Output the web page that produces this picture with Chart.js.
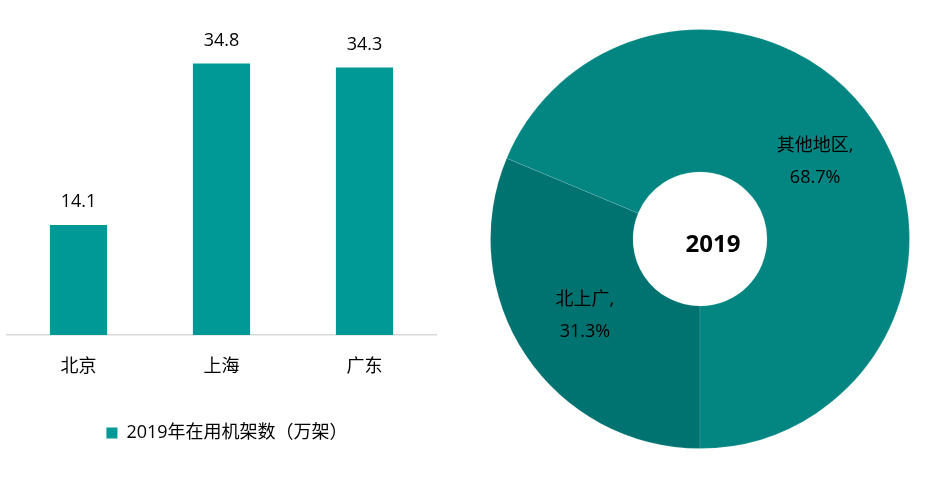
<!DOCTYPE html>
<html>
<head>
<meta charset="utf-8">
<script src="https://cdn.jsdelivr.net/npm/chart.js@4/dist/chart.umd.min.js"></script>
<style>
  html, body { margin: 0; padding: 0; background: #fff; }
  body { width: 950px; height: 478px; position: relative; overflow: hidden; }
  #barWrap { position: absolute; left: 0; top: 0; width: 449px; height: 478px; }
  #pieWrap { position: absolute; left: 480px; top: 19px; width: 440px; height: 440px; }
</style>
</head>
<body>
<div id="barWrap"><canvas id="bar"></canvas></div>
<div id="pieWrap"><canvas id="pie"></canvas></div>
<script>
const barCategories = ['北京', '上海', '广东'];
const barValues = [14.1, 34.8, 34.3];
const barSeriesName = '2019年在用机架数（万架）';

const pieLabels = ['北上广', '其他地区'];
const pieValues = [31.3, 68.7];
const pieCenterText = '2019';

const FONT = '"Open Sans", "Noto Sans CJK SC", sans-serif';
const BAR_COLOR = '#009996';
const PIE_COLORS = ['#00726F', '#038682'];

const barValueLabels = {
  id: 'barValueLabels',
  afterDatasetsDraw(chart) {
    const ctx = chart.ctx;
    const meta = chart.getDatasetMeta(0);
    ctx.save();
    ctx.font = '18px ' + FONT;
    ctx.fillStyle = '#000';
    ctx.textAlign = 'center';
    ctx.textBaseline = 'middle';
    meta.data.forEach((el, i) => {
      ctx.fillText(String(chart.data.datasets[0].data[i]), el.x, el.y - 23);
    });
    ctx.restore();
  }
};

new Chart(document.getElementById('bar'), {
  type: 'bar',
  data: {
    labels: barCategories,
    datasets: [{
      label: barSeriesName,
      data: barValues,
      backgroundColor: BAR_COLOR,
      borderWidth: 0,
      barPercentage: 0.8,
      categoryPercentage: 0.5
    }]
  },
  options: {
    responsive: true,
    maintainAspectRatio: false,
    animation: false,
    events: [],
    layout: { padding: { left: 7, right: 2, top: 23, bottom: 26 } },
    scales: {
      x: {
        grid: { display: false, drawTicks: false },
        border: { display: true, color: '#d9d9d9', width: 1.5 },
        ticks: { color: '#000', font: { family: FONT, size: 18 }, padding: 21 },
        afterFit(s) { s.height += 15.5; }
      },
      y: {
        position: 'right',
        min: 0, max: 40,
        grid: { display: false, drawTicks: false },
        border: { display: false },
        ticks: { display: false },
        afterFit(s) { s.width = 11; }
      }
    },
    plugins: {
      legend: {
        position: 'bottom',
        labels: {
          color: '#000',
          font: { family: FONT, size: 18 },
          boxWidth: 11, boxHeight: 11, padding: 10
        }
      },
      tooltip: { enabled: false }
    }
  },
  plugins: [barValueLabels]
});

const pieTextPlugin = {
  id: 'pieText',
  afterDatasetsDraw(chart) {
    const ctx = chart.ctx;
    const meta = chart.getDatasetMeta(0);
    ctx.save();
    ctx.fillStyle = '#000';
    ctx.textAlign = 'center';
    ctx.textBaseline = 'middle';
    ctx.font = '18px ' + FONT;
    meta.data.forEach((arc, i) => {
      const p = arc.getCenterPoint();
      ctx.fillText(chart.data.labels[i] + ',', p.x, p.y - 16);
      ctx.fillText(chart.data.datasets[0].data[i].toFixed(1) + '%', p.x, p.y + 16);
    });
    const a = meta.data[0];
    ctx.font = 'bold 24px ' + FONT;
    ctx.fillText(pieCenterText, a.x + 13, a.y + 6);
    ctx.restore();
  }
};

new Chart(document.getElementById('pie'), {
  type: 'doughnut',
  data: {
    labels: pieLabels,
    datasets: [{
      data: pieValues,
      backgroundColor: PIE_COLORS,
      borderColor: 'rgba(255,255,255,0.12)',
      borderWidth: 1
    }]
  },
  options: {
    responsive: true,
    maintainAspectRatio: false,
    animation: false,
    events: [],
    rotation: 180,
    cutout: '32%',
    layout: { padding: 10 },
    plugins: {
      legend: { display: false },
      tooltip: { enabled: false }
    }
  },
  plugins: [pieTextPlugin]
});
</script>
</body>
</html>
